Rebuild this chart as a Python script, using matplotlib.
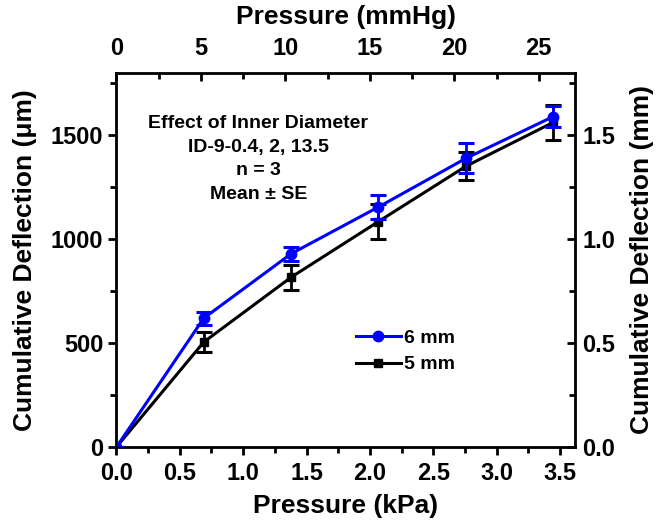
import matplotlib
matplotlib.use("Agg")
import matplotlib.pyplot as plt
from matplotlib.ticker import MultipleLocator, FormatStrFormatter

plt.rcParams['font.family'] = ['Liberation Sans', 'DejaVu Sans']
plt.rcParams['font.weight'] = 'bold'

# pressure steps (kPa)
pressure = [0.0, 0.689, 1.379, 2.068, 2.758, 3.447]

# 6 mm inner diameter
d6 = [0, 620, 930, 1155, 1389, 1590]
e6 = [0, 31, 34, 60, 72, 50]

# 5 mm inner diameter
d5 = [0, 505, 817, 1085, 1351, 1562]
e5 = [0, 48, 60, 85, 67, 84]

KPA_TO_MMHG = 7.50062

fig = plt.figure(figsize=(6.58, 5.21), dpi=100)
ax = fig.add_axes([0.177, 0.142, 0.697, 0.718])

# error bars first, lines+markers on top
ax.errorbar(pressure, d5, yerr=e5, fmt='none', ecolor='black', capsize=5.5,
            capthick=2.2, elinewidth=2, zorder=2)
ax.errorbar(pressure, d6, yerr=e6, fmt='none', ecolor='#0000ff', capsize=5.5,
            capthick=2.2, elinewidth=2, zorder=3)
ax.plot(pressure, d5, color='black', marker='s', ms=6, lw=2.2, label='5 mm', zorder=2)
ax.plot(pressure, d6, color='#0000ff', marker='o', ms=7.5, lw=2.2, label='6 mm', zorder=3)

ax.set_xlim(0, 3.62)
ax.set_ylim(0, 1800)
ax.xaxis.set_major_locator(MultipleLocator(0.5))
ax.xaxis.set_minor_locator(MultipleLocator(0.25))
ax.yaxis.set_major_locator(MultipleLocator(500))
ax.yaxis.set_minor_locator(MultipleLocator(250))
ax.xaxis.set_major_formatter(FormatStrFormatter('%.1f'))

for s in ax.spines.values():
    s.set_linewidth(2)
ax.tick_params(which='both', width=2, labelsize=17, direction='out')
ax.tick_params(which='major', length=6)
ax.tick_params(which='minor', length=4)
ax.tick_params(axis='x', pad=5)
ax.set_xlabel('Pressure (kPa)', fontsize=19, fontweight='bold', labelpad=6)
ax.set_ylabel('Cumulative Deflection (\u03bcm)', fontsize=19, fontweight='bold', labelpad=10)

# top axis in mmHg
top = ax.twiny()
top.set_xlim(ax.get_xlim()[0] * KPA_TO_MMHG, ax.get_xlim()[1] * KPA_TO_MMHG)
top.xaxis.set_major_locator(MultipleLocator(5))
top.xaxis.set_minor_locator(MultipleLocator(2.5))
top.tick_params(which='both', width=2, labelsize=17, direction='in', pad=9)
top.tick_params(which='major', length=6)
top.tick_params(which='minor', length=4)
top.set_xlabel('Pressure (mmHg)', fontsize=19, fontweight='bold', labelpad=10)

# right axis in mm
right = ax.twinx()
right.set_ylim(ax.get_ylim()[0] / 1000.0, ax.get_ylim()[1] / 1000.0)
right.yaxis.set_major_locator(MultipleLocator(0.5))
right.yaxis.set_minor_locator(MultipleLocator(0.25))
right.yaxis.set_major_formatter(FormatStrFormatter('%.1f'))
right.tick_params(which='both', width=2, labelsize=17, direction='in', pad=5)
right.tick_params(which='major', length=6)
right.tick_params(which='minor', length=4)
right.set_ylabel('Cumulative Deflection (mm)', fontsize=19, fontweight='bold', labelpad=11)
right.xaxis.set_visible(False)
top.yaxis.set_visible(False)

notes = ['Effect of Inner Diameter', 'ID-9-0.4, 2, 13.5', 'n = 3', 'Mean \u00b1 SE']
ax.text(1.12, 1385, '\n'.join(notes), ha='center', va='center', fontsize=14,
        fontweight='bold', linespacing=1.5)

handles, labels = ax.get_legend_handles_labels()
ax.legend(handles[::-1], labels[::-1], loc='upper left', bbox_to_anchor=(0.505, 0.335),
          frameon=False, fontsize=14, handlelength=2.3, handletextpad=0.2,
          labelspacing=0.45, borderaxespad=0)

fig.savefig('out.png', dpi=100)
